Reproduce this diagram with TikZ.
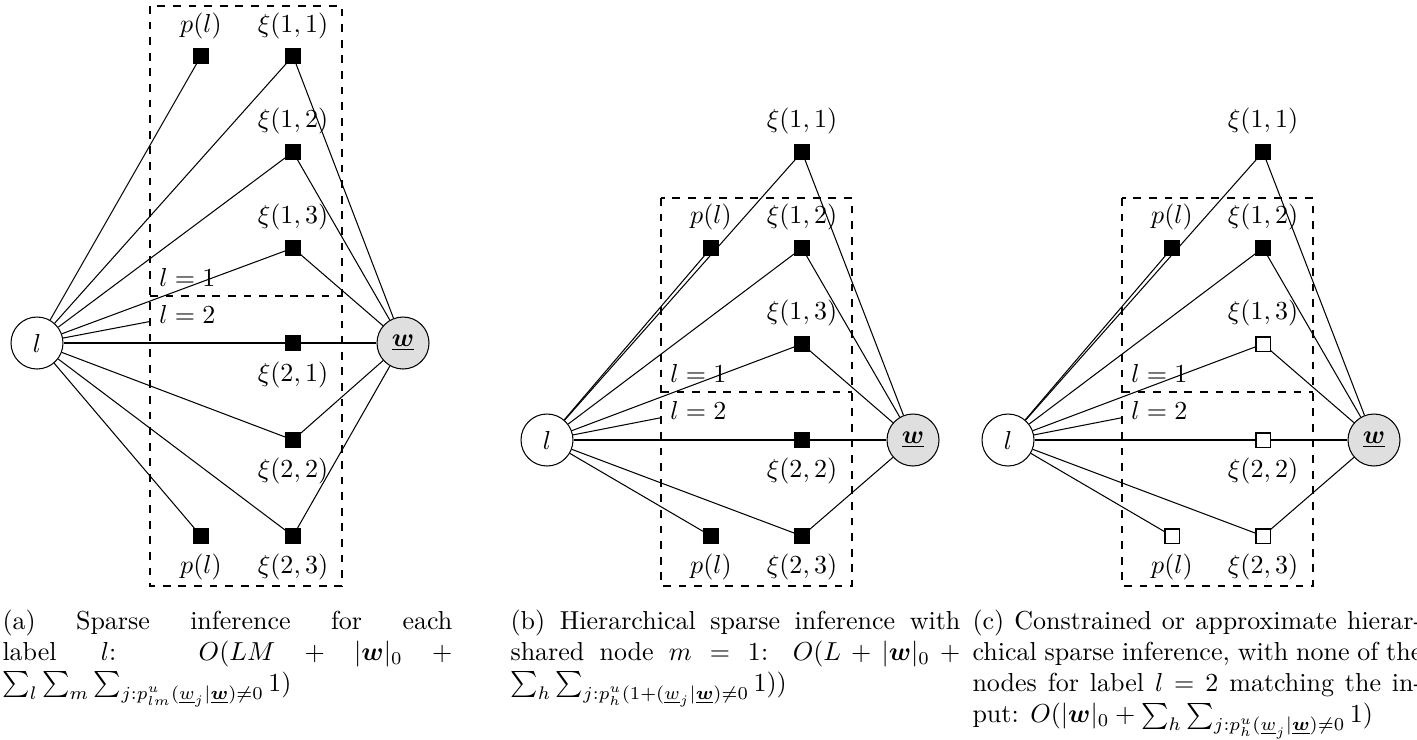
\documentclass[tikz,border=0pt]{standalone}
\usepackage{amsmath,amssymb,bm}
\tikzset{
  x=0.384615pt, y=-0.384615pt,
  var/.style={circle, draw, line width=0.4pt, minimum size=20pt, inner sep=0pt},
  obs/.style={var, fill=gray!25},
  fac/.style={rectangle, draw, fill=black, minimum size=5.4pt, inner sep=0pt},
  wfac/.style={rectangle, draw, fill=white, minimum size=5.4pt, inner sep=0pt},
  lab/.style={inner sep=0pt},
  plate/.style={draw, dashed, line width=0.4pt},
  platelab/.style={inner sep=3.4pt},
  edge/.style={line width=0.4pt},
  captext/.style={anchor=base west, inner sep=0pt, text width=173pt, align=justify},
}
\begin{document}
\begin{tikzpicture}
\useasboundingbox (0,0) rectangle (1417,740);

% ---------------- Panel (a) ----------------
\begin{scope}
\draw[plate] (150,6) rectangle (342,586);
\draw[plate] (150,296) -- (342,296);
\node[platelab, anchor=south west] (al1) at (150,296) {$l=1$};
\node[platelab, anchor=north west] (al2) at (150,296) {$l=2$};
\node[var] (al) at (37,343) {$l$};
\node[obs] (aw) at (403,343) {$\underline{\boldsymbol{w}}$};
\node[fac] (apA) at (201,56) {};
\node[fac] (ax11) at (293,56) {};
\node[fac] (ax12) at (293,152) {};
\node[fac] (ax13) at (293,248) {};
\node[fac] (ax21) at (293,343) {};
\node[fac] (ax22) at (293,440) {};
\node[fac] (ax23) at (293,536) {};
\node[fac] (apB) at (201,536) {};
\node[lab] (apAl) at (201,26) {$p(l)$};
\node[lab] (ax11l) at (293,26) {$\xi(1,1)$};
\node[lab] (ax12l) at (293,121) {$\xi(1,2)$};
\node[lab] (ax13l) at (293,217) {$\xi(1,3)$};
\node[lab] (ax21l) at (293,375) {$\xi(2,1)$};
\node[lab] (ax22l) at (293,471) {$\xi(2,2)$};
\node[lab] (ax23l) at (293,567) {$\xi(2,3)$};
\node[lab] (apBl) at (201,567) {$p(l)$};
\foreach \t in {apA,ax11,ax12,ax13,al2,ax21,ax22,ax23,apB} \draw[edge] (al) -- (\t);
\foreach \t in {ax11,ax12,ax13,ax21,ax22,ax23} \draw[edge] (aw) -- (\t);
\end{scope}

% ---------------- Panel (b) ----------------
\begin{scope}[shift={(510,97)}]
\draw[plate] (151,101) rectangle (342,489);
\draw[plate] (151,295) -- (342,295);
\node[platelab, anchor=south west] (bl1) at (151,295) {$l=1$};
\node[platelab, anchor=north west] (bl2) at (151,295) {$l=2$};
\node[var] (bl) at (37,343) {$l$};
\node[obs] (bw) at (403,343) {$\underline{\boldsymbol{w}}$};
\node[fac] (bx11) at (292,55) {};
\node[fac] (bpA) at (201,151) {};
\node[fac] (bx12) at (292,151) {};
\node[fac] (bx13) at (292,247) {};
\node[fac] (bx22) at (292,343) {};
\node[fac] (bx23) at (292,439) {};
\node[fac] (bpB) at (201,439) {};
\node[lab] (bx11l) at (292,24) {$\xi(1,1)$};
\node[lab] (bpAl) at (201,120) {$p(l)$};
\node[lab] (bx12l) at (292,120) {$\xi(1,2)$};
\node[lab] (bx13l) at (292,216) {$\xi(1,3)$};
\node[lab] (bx22l) at (292,374) {$\xi(2,2)$};
\node[lab] (bx23l) at (292,470) {$\xi(2,3)$};
\node[lab] (bpBl) at (201,470) {$p(l)$};
\foreach \t in {bpA,bx11,bx12,bx13,bl2,bx22,bx23,bpB} \draw[edge] (bl) -- (\t);
\foreach \t in {bx11,bx12,bx13,bx22,bx23} \draw[edge] (bw) -- (\t);
\end{scope}

% ---------------- Panel (c) ----------------
\begin{scope}[shift={(971,97)}]
\draw[plate] (151,101) rectangle (342,489);
\draw[plate] (151,295) -- (342,295);
\node[platelab, anchor=south west] (cl1) at (151,295) {$l=1$};
\node[platelab, anchor=north west] (cl2) at (151,295) {$l=2$};
\node[var] (cl) at (37,343) {$l$};
\node[obs] (cw) at (403,343) {$\underline{\boldsymbol{w}}$};
\node[fac] (cx11) at (292,55) {};
\node[fac] (cpA) at (201,151) {};
\node[fac] (cx12) at (292,151) {};
\node[wfac] (cx13) at (292,247) {};
\node[wfac] (cx22) at (292,343) {};
\node[wfac] (cx23) at (292,439) {};
\node[wfac] (cpB) at (201,439) {};
\node[lab] (cx11l) at (292,24) {$\xi(1,1)$};
\node[lab] (cpAl) at (201,120) {$p(l)$};
\node[lab] (cx12l) at (292,120) {$\xi(1,2)$};
\node[lab] (cx13l) at (292,216) {$\xi(1,3)$};
\node[lab] (cx22l) at (292,374) {$\xi(2,2)$};
\node[lab] (cx23l) at (292,470) {$\xi(2,3)$};
\node[lab] (cpBl) at (201,470) {$p(l)$};
\foreach \t in {cpA,cx11,cx12,cx13,cl2,cx22,cx23,cpB} \draw[edge] (cl) -- (\t);
\foreach \t in {cx11,cx12,cx13,cx22,cx23} \draw[edge] (cw) -- (\t);
\end{scope}

% ---------------- Captions ----------------
\node[captext] (capa) at (2,629) {\sloppy (a) Sparse inference for each\linebreak label $l$: $O(LM + |\boldsymbol{w}|_0 +\penalty-10000 \sum_l \sum_m \sum_{j:p^u_{lm}(\underline{w}_j|\underline{\boldsymbol{w}})\neq 0} 1)$};
\node[captext] (capb) at (510,629) {\sloppy (b) Hierarchical sparse inference with\linebreak shared node $m=1$: $O(L + |\boldsymbol{w}|_0 +\penalty-10000 \sum_h \sum_{j:p^u_h(1+(\underline{w}_j|\underline{\boldsymbol{w}})\neq 0} 1))$};
\node[captext] (capc) at (972,629) {\sloppy (c) Constrained or approximate hierar-\linebreak chical sparse inference, with none of the\linebreak nodes for label $l=2$ matching the in-\linebreak put: $O(|\boldsymbol{w}|_0 + \sum_h \sum_{j:p^u_h(\underline{w}_j|\underline{\boldsymbol{w}})\neq 0} 1)$};
\end{tikzpicture}
\end{document}
